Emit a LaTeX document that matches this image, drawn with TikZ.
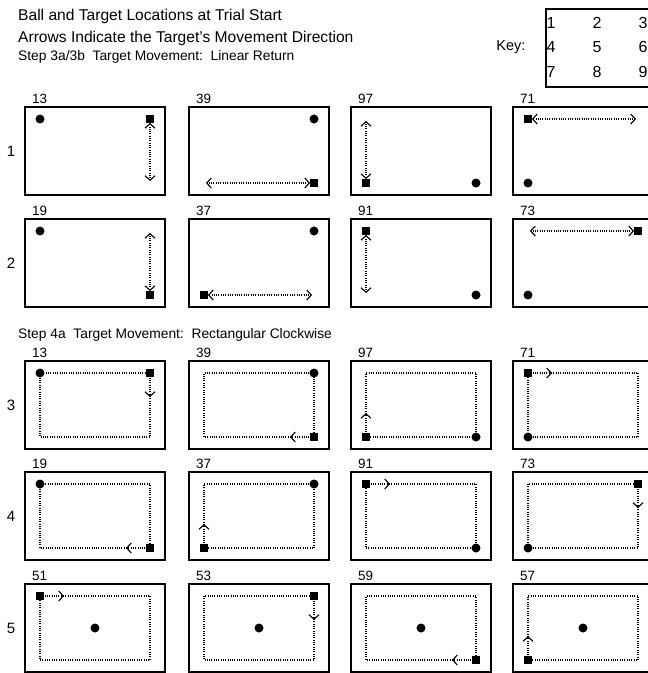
\documentclass[tikz,border=0pt]{standalone}
\usepackage{fontspec}
\setmainfont{Liberation Sans}
\usetikzlibrary{arrows.meta,calc}

\tikzset{
  frame/.style={line width=1.4pt},
  ball/.style={circle,fill,inner sep=0pt,minimum size=9pt},
  target/.style={rectangle,fill,inner sep=0pt,minimum size=7.5pt},
  track/.style={line width=1.1pt,dash pattern=on 1pt off 1.3pt},
  heading/.style={font=\fontsize{15.6}{18}\selectfont,anchor=base west,inner sep=0pt},
  steptitle/.style={font=\fontsize{13.8}{16}\selectfont,anchor=base west,inner sep=0pt},
  panelno/.style={font=\fontsize{13.5}{15}\selectfont,anchor=base west,inner sep=0pt},
  rowno/.style={font=\fontsize{15}{17}\selectfont,inner sep=0pt},
  keyno/.style={font=\fontsize{16}{18}\selectfont,inner sep=0pt},
  >={Straight Barb[length=4.5pt,width=10pt]}
}

% one trial box: id, left, top, ball, target
\newcommand{\trialbox}[5]{%
  \draw[frame] (#2,#3) rectangle ++(140,88);
  \node[panelno] (no#1) at (#2+7,#3-4) {#4#5};
  \foreach \i/\cx/\cy in {1/15/12,2/70/12,3/125/12,4/15/44,5/70/44,6/125/44,7/15/76,8/70/76,9/125/76}
    \coordinate (p\i) at (#2+\cx,#3+\cy);
}
% linear return: id, left, top, ball, target, far end
\newcommand{\linear}[6]{%
  \trialbox{#1}{#2}{#3}{#4}{#5}
  \node[ball] (ball#1) at (p#4) {};
  \node[target] (target#1) at (p#5) {};
  \draw[track,<->,shorten >=2pt] (target#1) -- (p#6);
}
% rectangular clockwise: id, left, top, ball, target, then the corners in clockwise order
\newcommand{\clockwise}[8]{%
  \trialbox{#1}{#2}{#3}{#4}{#5}
  \draw[track] (p#5) -- (p#6) -- (p#7) -- (p#8) -- cycle;
  \draw[track,->] (p#5) -- ($(p#5)!24pt!(p#6)$);
  \node[ball] (ball#1) at (p#4) {};
  \node[target] (target#1) at (p#5) {};
}

\begin{document}
\begin{tikzpicture}[x=1pt,y=-1pt]
\useasboundingbox (0,0) rectangle (648,673);
\clip (0,0) rectangle (648,673);

\node[heading] (title) at (18,20.5) {Ball and Target Locations at Trial Start};
\node[heading] (subtitle) at (18,42.5) {Arrows Indicate the Target’s Movement Direction};
\node[steptitle] (stepA) at (18,60) {Step 3a/3b\ \ Target Movement:\ \ Linear Return};
\node[steptitle] (stepB) at (18,338) {Step 4a\ \ Target Movement:\ \ Rectangular Clockwise};

\node[font=\fontsize{14.5}{17}\selectfont,inner sep=0pt] (key) at (511,47) {Key:};
\draw[frame] (546,9) rectangle (664,87);
\foreach \n/\kx/\ky in {1/551/23,2/597/23,3/643/23,4/551/47,5/597/47,6/643/47,7/551/72,8/597/72,9/643/72}
  \node[keyno] (k\n) at (\kx,\ky) {\n};

\foreach \r/\ry in {1/151,2/263,3/405,4/516,5/628}
  \node[rowno] (row\r) at (11,\ry) {\r};

\linear{a1}{25}{107}{1}{3}{9}
\linear{a2}{189}{107}{3}{9}{7}
\linear{a3}{351}{107}{9}{7}{1}
\linear{a4}{513}{107}{7}{1}{3}

\linear{b1}{25}{219}{1}{9}{3}
\linear{b2}{189}{219}{3}{7}{9}
\linear{b3}{351}{219}{9}{1}{7}
\linear{b4}{513}{219}{7}{3}{1}

\clockwise{c1}{25}{361}{1}{3}{9}{7}{1}
\clockwise{c2}{189}{361}{3}{9}{7}{1}{3}
\clockwise{c3}{351}{361}{9}{7}{1}{3}{9}
\clockwise{c4}{513}{361}{7}{1}{3}{9}{7}

\clockwise{d1}{25}{472}{1}{9}{7}{1}{3}
\clockwise{d2}{189}{472}{3}{7}{1}{3}{9}
\clockwise{d3}{351}{472}{9}{1}{3}{9}{7}
\clockwise{d4}{513}{472}{7}{3}{9}{7}{1}

\clockwise{e1}{25}{584}{5}{1}{3}{9}{7}
\clockwise{e2}{189}{584}{5}{3}{9}{7}{1}
\clockwise{e3}{351}{584}{5}{9}{7}{1}{3}
\clockwise{e4}{513}{584}{5}{7}{1}{3}{9}
\end{tikzpicture}
\end{document}
